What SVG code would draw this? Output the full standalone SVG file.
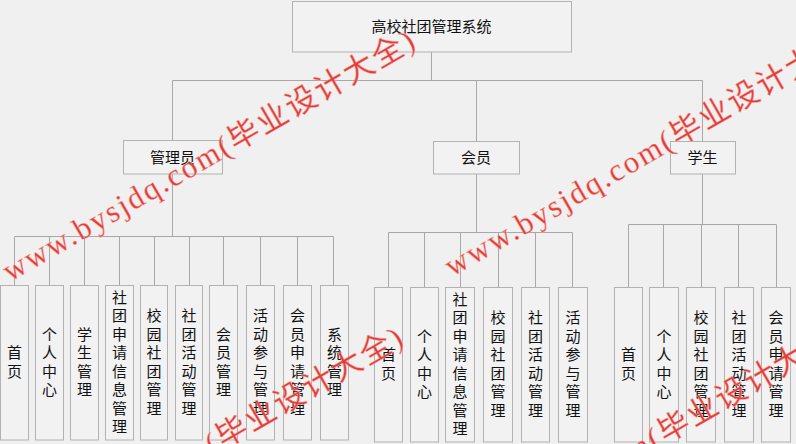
<svg xmlns="http://www.w3.org/2000/svg" width="796" height="444" viewBox="0 0 796 444">
<defs>
<style>
.bg{fill:#f0f0f0}
.box{fill:#f2f2f2;stroke:#b2b2b2;stroke-width:1}
.ln{fill:none;stroke:#a8a8a8;stroke-width:1}
.t{font-family:"Noto Sans CJK SC","Noto Sans",sans-serif;font-size:15px;fill:#111;text-anchor:middle}
.wm{font-family:"Liberation Serif","Noto Sans CJK SC",serif;font-size:31px;fill:#e53c38;stroke:#f4b0a8;stroke-width:0.4}
</style>
</defs>
<rect class="bg" x="0" y="0" width="796" height="444"/>
<g id="connectors">
<path class="ln" d="M431.5 52V80.5M172.5 80.5H702.5M172.5 80.5V140M476.5 80.5V141M702.5 80.5V141"/>
<path class="ln" d="M172.5 174V236.5M14.5 236.5H333.5M14.5 236.5V285M49.5 236.5V285M84.5 236.5V285M119.5 236.5V285M154.5 236.5V285M189.5 236.5V285M223.5 236.5V285M260.5 236.5V285M297.5 236.5V285M333.5 236.5V285"/>
<path class="ln" d="M476.5 174V232.5M388.5 232.5H572.5M388.5 232.5V287M424.5 232.5V287M460.5 232.5V287M498.5 232.5V287M535.5 232.5V287M572.5 232.5V287"/>
<path class="ln" d="M702.5 174V224.5M628.5 224.5H776.5M628.5 224.5V287M663.5 224.5V287M701.5 224.5V287M738.5 224.5V287M776.5 224.5V287"/>
</g>
<g id="root"><rect class="box" x="292.5" y="1.5" width="279" height="50.5"/><text class="t" x="431.5" y="31.5">高校社团管理系统</text></g>
<g id="admin"><rect class="box" x="123.5" y="140.5" width="99" height="33.5"/><text class="t" x="172.5" y="162.5">管理员</text></g>
<g id="member"><rect class="box" x="433.5" y="141.5" width="86" height="32.5"/><text class="t" x="476" y="163">会员</text></g>
<g id="student"><rect class="box" x="670.5" y="141.5" width="65" height="32.5"/><text class="t" x="702.5" y="163">学生</text></g>

<g id="a1"><rect class="box" x="0.5" y="285.5" width="28" height="154.5"/><text class="t" x="14.5" y="358"><tspan x="14.5">首</tspan><tspan x="14.5" dy="18.5">页</tspan></text></g>
<g id="a2"><rect class="box" x="35.5" y="285.5" width="28" height="154.5"/><text class="t" x="49.5" y="339.5"><tspan x="49.5">个</tspan><tspan x="49.5" dy="18.5">人</tspan><tspan x="49.5" dy="18.5">中</tspan><tspan x="49.5" dy="18.5">心</tspan></text></g>
<g id="a3"><rect class="box" x="70.5" y="285.5" width="28" height="154.5"/><text class="t" x="84.5" y="339.5"><tspan x="84.5">学</tspan><tspan x="84.5" dy="18.5">生</tspan><tspan x="84.5" dy="18.5">管</tspan><tspan x="84.5" dy="18.5">理</tspan></text></g>
<g id="a4"><rect class="box" x="105.5" y="285.5" width="28" height="154.5"/><text class="t" x="119.5" y="302.5"><tspan x="119.5">社</tspan><tspan x="119.5" dy="18.5">团</tspan><tspan x="119.5" dy="18.5">申</tspan><tspan x="119.5" dy="18.5">请</tspan><tspan x="119.5" dy="18.5">信</tspan><tspan x="119.5" dy="18.5">息</tspan><tspan x="119.5" dy="18.5">管</tspan><tspan x="119.5" dy="18.5">理</tspan></text></g>
<g id="a5"><rect class="box" x="140.5" y="285.5" width="27" height="154.5"/><text class="t" x="154" y="321"><tspan x="154">校</tspan><tspan x="154" dy="18.5">园</tspan><tspan x="154" dy="18.5">社</tspan><tspan x="154" dy="18.5">团</tspan><tspan x="154" dy="18.5">管</tspan><tspan x="154" dy="18.5">理</tspan></text></g>
<g id="a6"><rect class="box" x="175.5" y="285.5" width="27" height="154.5"/><text class="t" x="189" y="321"><tspan x="189">社</tspan><tspan x="189" dy="18.5">团</tspan><tspan x="189" dy="18.5">活</tspan><tspan x="189" dy="18.5">动</tspan><tspan x="189" dy="18.5">管</tspan><tspan x="189" dy="18.5">理</tspan></text></g>
<g id="a7"><rect class="box" x="209.5" y="285.5" width="28" height="154.5"/><text class="t" x="223.5" y="339.5"><tspan x="223.5">会</tspan><tspan x="223.5" dy="18.5">员</tspan><tspan x="223.5" dy="18.5">管</tspan><tspan x="223.5" dy="18.5">理</tspan></text></g>
<g id="a8"><rect class="box" x="246.5" y="285.5" width="28" height="154.5"/><text class="t" x="260.5" y="321"><tspan x="260.5">活</tspan><tspan x="260.5" dy="18.5">动</tspan><tspan x="260.5" dy="18.5">参</tspan><tspan x="260.5" dy="18.5">与</tspan><tspan x="260.5" dy="18.5">管</tspan><tspan x="260.5" dy="18.5">理</tspan></text></g>
<g id="a9"><rect class="box" x="283.5" y="285.5" width="28" height="154.5"/><text class="t" x="297.5" y="321"><tspan x="297.5">会</tspan><tspan x="297.5" dy="18.5">员</tspan><tspan x="297.5" dy="18.5">申</tspan><tspan x="297.5" dy="18.5">请</tspan><tspan x="297.5" dy="18.5">管</tspan><tspan x="297.5" dy="18.5">理</tspan></text></g>
<g id="a10"><rect class="box" x="320.5" y="285.5" width="28" height="154.5"/><text class="t" x="334.5" y="339.5"><tspan x="334.5">系</tspan><tspan x="334.5" dy="18.5">统</tspan><tspan x="334.5" dy="18.5">管</tspan><tspan x="334.5" dy="18.5">理</tspan></text></g>

<g id="m1"><rect class="box" x="374.5" y="287.5" width="28" height="154.5"/><text class="t" x="388.5" y="360"><tspan x="388.5">首</tspan><tspan x="388.5" dy="18.5">页</tspan></text></g>
<g id="m2"><rect class="box" x="410.5" y="287.5" width="28" height="154.5"/><text class="t" x="424.5" y="341.5"><tspan x="424.5">个</tspan><tspan x="424.5" dy="18.5">人</tspan><tspan x="424.5" dy="18.5">中</tspan><tspan x="424.5" dy="18.5">心</tspan></text></g>
<g id="m3"><rect class="box" x="445.5" y="287.5" width="29" height="154.5"/><text class="t" x="460" y="304.5"><tspan x="460">社</tspan><tspan x="460" dy="18.5">团</tspan><tspan x="460" dy="18.5">申</tspan><tspan x="460" dy="18.5">请</tspan><tspan x="460" dy="18.5">信</tspan><tspan x="460" dy="18.5">息</tspan><tspan x="460" dy="18.5">管</tspan><tspan x="460" dy="18.5">理</tspan></text></g>
<g id="m4"><rect class="box" x="483.5" y="287.5" width="29" height="154.5"/><text class="t" x="498" y="323"><tspan x="498">校</tspan><tspan x="498" dy="18.5">园</tspan><tspan x="498" dy="18.5">社</tspan><tspan x="498" dy="18.5">团</tspan><tspan x="498" dy="18.5">管</tspan><tspan x="498" dy="18.5">理</tspan></text></g>
<g id="m5"><rect class="box" x="521.5" y="287.5" width="28" height="154.5"/><text class="t" x="535.5" y="323"><tspan x="535.5">社</tspan><tspan x="535.5" dy="18.5">团</tspan><tspan x="535.5" dy="18.5">活</tspan><tspan x="535.5" dy="18.5">动</tspan><tspan x="535.5" dy="18.5">管</tspan><tspan x="535.5" dy="18.5">理</tspan></text></g>
<g id="m6"><rect class="box" x="558.5" y="287.5" width="29" height="154.5"/><text class="t" x="573" y="323"><tspan x="573">活</tspan><tspan x="573" dy="18.5">动</tspan><tspan x="573" dy="18.5">参</tspan><tspan x="573" dy="18.5">与</tspan><tspan x="573" dy="18.5">管</tspan><tspan x="573" dy="18.5">理</tspan></text></g>

<g id="s1"><rect class="box" x="614.5" y="287.5" width="28" height="154.5"/><text class="t" x="628.5" y="360"><tspan x="628.5">首</tspan><tspan x="628.5" dy="18.5">页</tspan></text></g>
<g id="s2"><rect class="box" x="649.5" y="287.5" width="29" height="154.5"/><text class="t" x="664" y="341.5"><tspan x="664">个</tspan><tspan x="664" dy="18.5">人</tspan><tspan x="664" dy="18.5">中</tspan><tspan x="664" dy="18.5">心</tspan></text></g>
<g id="s3"><rect class="box" x="686.5" y="287.5" width="29" height="154.5"/><text class="t" x="701" y="323"><tspan x="701">校</tspan><tspan x="701" dy="18.5">园</tspan><tspan x="701" dy="18.5">社</tspan><tspan x="701" dy="18.5">团</tspan><tspan x="701" dy="18.5">管</tspan><tspan x="701" dy="18.5">理</tspan></text></g>
<g id="s4"><rect class="box" x="724.5" y="287.5" width="29" height="154.5"/><text class="t" x="739" y="323"><tspan x="739">社</tspan><tspan x="739" dy="18.5">团</tspan><tspan x="739" dy="18.5">活</tspan><tspan x="739" dy="18.5">动</tspan><tspan x="739" dy="18.5">管</tspan><tspan x="739" dy="18.5">理</tspan></text></g>
<g id="s5"><rect class="box" x="761.5" y="287.5" width="29" height="154.5"/><text class="t" x="776" y="323"><tspan x="776">会</tspan><tspan x="776" dy="18.5">员</tspan><tspan x="776" dy="18.5">申</tspan><tspan x="776" dy="18.5">请</tspan><tspan x="776" dy="18.5">管</tspan><tspan x="776" dy="18.5">理</tspan></text></g>

<g id="watermarks">
<text class="wm" x="10" y="282" transform="rotate(-30 10 282)" textLength="470" lengthAdjust="spacing">www.bysjdq.com(毕业设计大全)</text>
<text class="wm" x="452" y="277" transform="rotate(-30 452 277)" textLength="470" lengthAdjust="spacing">www.bysjdq.com(毕业设计大全)</text>
<text class="wm" x="-2" y="579" transform="rotate(-30 -2 579)" textLength="470" lengthAdjust="spacing">www.bysjdq.com(毕业设计大全)</text>
<text class="wm" x="440" y="574" transform="rotate(-30 440 574)" textLength="470" lengthAdjust="spacing">www.bysjdq.com(毕业设计大全)</text>
</g>
</svg>
